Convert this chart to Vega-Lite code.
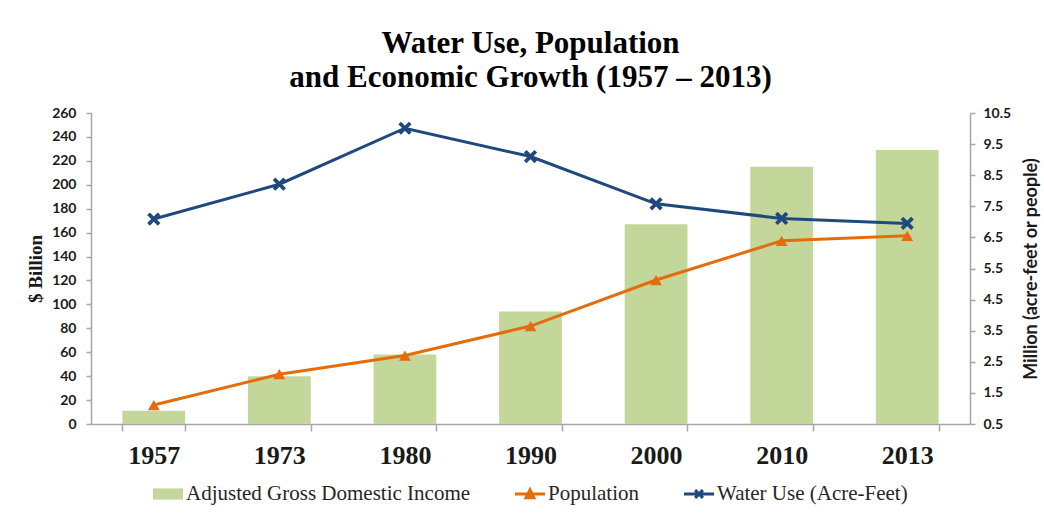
{
  "$schema": "https://vega.github.io/schema/vega-lite/v6.json",
  "width": 879,
  "height": 311,
  "autosize": {"type": "none"},
  "padding": {"left": 91, "top": 113, "right": 74, "bottom": 91},
  "background": "white",
  "title": {
    "text": ["Water Use, Population", "and Economic Growth (1957 – 2013)"],
    "font": "Liberation Serif",
    "fontSize": 31,
    "fontWeight": "bold",
    "color": "#000000",
    "lineHeight": 34,
    "anchor": "middle",
    "offset": 12
  },
  "config": {
    "view": {"stroke": null},
    "axis": {"grid": false, "domainColor": "#A6A6A6", "domainWidth": 1.5, "tickColor": "#A6A6A6", "tickWidth": 1.5}
  },
  "datasets": {
    "d": [
      {"year": "1957", "series": "Adjusted Gross Domestic Income", "value": 11},
      {"year": "1973", "series": "Adjusted Gross Domestic Income", "value": 40},
      {"year": "1980", "series": "Adjusted Gross Domestic Income", "value": 58},
      {"year": "1990", "series": "Adjusted Gross Domestic Income", "value": 94},
      {"year": "2000", "series": "Adjusted Gross Domestic Income", "value": 167},
      {"year": "2010", "series": "Adjusted Gross Domestic Income", "value": 215},
      {"year": "2013", "series": "Adjusted Gross Domestic Income", "value": 229},
      {"year": "1957", "series": "Population", "value": 1.11},
      {"year": "1973", "series": "Population", "value": 2.1},
      {"year": "1980", "series": "Population", "value": 2.7},
      {"year": "1990", "series": "Population", "value": 3.65},
      {"year": "2000", "series": "Population", "value": 5.13},
      {"year": "2010", "series": "Population", "value": 6.39},
      {"year": "2013", "series": "Population", "value": 6.55},
      {"year": "1957", "series": "Water Use (Acre-Feet)", "value": 7.09},
      {"year": "1973", "series": "Water Use (Acre-Feet)", "value": 8.21},
      {"year": "1980", "series": "Water Use (Acre-Feet)", "value": 10.01},
      {"year": "1990", "series": "Water Use (Acre-Feet)", "value": 9.1},
      {"year": "2000", "series": "Water Use (Acre-Feet)", "value": 7.58},
      {"year": "2010", "series": "Water Use (Acre-Feet)", "value": 7.11},
      {"year": "2013", "series": "Water Use (Acre-Feet)", "value": 6.95}
    ]
  },
  "data": {"name": "d"},
  "encoding": {
    "x": {
      "field": "year",
      "type": "ordinal",
      "scale": {"paddingInner": 0.5, "paddingOuter": 0.25},
      "axis": {
        "title": null,
        "labelAngle": 0,
        "tickBand": "extent",
        "labelFont": "Liberation Serif",
        "labelFontSize": 26,
        "labelFontWeight": "bold",
        "labelColor": "#1a1a1a",
        "tickSize": 7,
        "labelPadding": 11
      }
    }
  },
  "layer": [
    {
      "transform": [{"filter": "datum.series === 'Adjusted Gross Domestic Income'"}],
      "mark": {"type": "bar"},
      "encoding": {
        "y": {
          "field": "value",
          "type": "quantitative",
          "scale": {"domain": [0, 260], "nice": false},
          "axis": {
            "orient": "left",
            "values": [0, 20, 40, 60, 80, 100, 120, 140, 160, 180, 200, 220, 240, 260],
            "title": "$ Billion",
            "titleFont": "Liberation Serif",
            "titleFontSize": 19,
            "titleFontWeight": "bold",
            "titleColor": "#1a1a1a",
            "titlePadding": 6,
            "labelFont": "Lato",
            "labelFontSize": 14,
            "labelFontWeight": "bold",
            "labelColor": "#1a1a1a",
            "tickSize": 5,
            "labelPadding": 10
          }
        },
        "color": {
          "field": "series",
          "type": "nominal",
          "scale": {
            "domain": ["Adjusted Gross Domestic Income", "Population", "Water Use (Acre-Feet)"],
            "range": ["#C4D79B", "#E46C0A", "#1F497D"]
          },
          "legend": {
            "orient": "none",
            "legendX": 62,
            "legendY": 366,
            "direction": "horizontal",
            "title": null,
            "padding": 0,
            "labelFont": "Liberation Serif",
            "labelFontSize": 21,
            "labelColor": "#262626",
            "labelLimit": 500,
            "labelOffset": 3,
            "columnPadding": 44,
            "symbolSize": 900,
            "symbolStrokeWidth": 0,
            "encode": {
              "symbols": {
                "update": {
                  "shape": {"signal": "datum.value === 'Population' ? 'M-1,-0.1H1V0.1H-1Z M0,-0.5L0.42,0.35H-0.42Z' : (datum.value === 'Water Use (Acre-Feet)' ? 'M-1,-0.1H1V0.1H-1Z M-0.33,-0.19L-0.19,-0.33L0.33,0.19L0.19,0.33Z M0.19,-0.33L0.33,-0.19L-0.19,0.33L-0.33,0.19Z' : 'M-1,-0.37H1V0.37H-1Z')"}
                }
              }
            }
          }
        }
      }
    },
    {
      "encoding": {
        "y": {
          "field": "value",
          "type": "quantitative",
          "scale": {"domain": [0.5, 10.5], "nice": false, "zero": false},
          "axis": {
            "orient": "right",
            "values": [0.5, 1.5, 2.5, 3.5, 4.5, 5.5, 6.5, 7.5, 8.5, 9.5, 10.5],
            "format": ".1f",
            "title": "Million (acre-feet or people)",
            "titleAngle": 270,
            "titleFont": "Lato",
            "titleFontSize": 18,
            "titleFontWeight": "bold",
            "titleColor": "#1a1a1a",
            "titlePadding": 30,
            "labelFont": "Lato",
            "labelFontSize": 14,
            "labelFontWeight": "bold",
            "labelColor": "#1a1a1a",
            "tickSize": 5,
            "labelPadding": 8
          }
        }
      },
      "layer": [
        {
          "transform": [{"filter": "datum.series === 'Population'"}],
          "mark": {"type": "line", "color": "#E46C0A", "strokeWidth": 3}
        },
        {
          "transform": [{"filter": "datum.series === 'Population'"}],
          "mark": {"type": "point", "shape": "triangle-up", "size": 140, "filled": true, "opacity": 1, "color": "#E46C0A"}
        },
        {
          "transform": [{"filter": "datum.series === 'Water Use (Acre-Feet)'"}],
          "mark": {"type": "line", "color": "#1F497D", "strokeWidth": 3}
        },
        {
          "transform": [{"filter": "datum.series === 'Water Use (Acre-Feet)'"}],
          "mark": {"type": "point", "shape": "M-1,-0.6L-0.6,-1L1,0.6L0.6,1Z M0.6,-1L1,-0.6L-0.6,1L-1,0.6Z", "size": 175, "filled": true, "opacity": 1, "color": "#1F497D"}
        }
      ]
    }
  ],
  "resolve": {"scale": {"y": "independent"}}
}
